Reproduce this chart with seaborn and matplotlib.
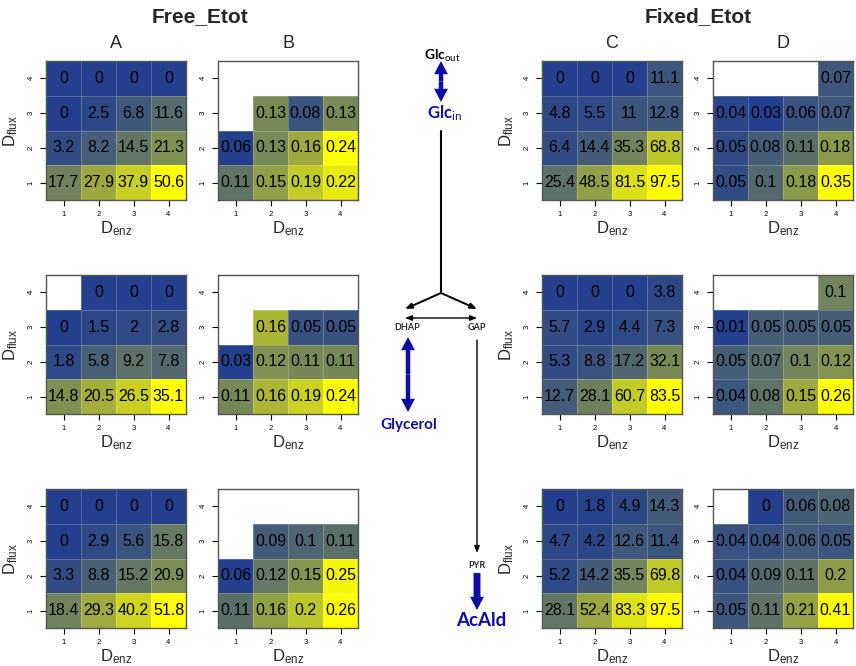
import numpy as np
import pandas as pd
import matplotlib
matplotlib.use("Agg")
import matplotlib.pyplot as plt
import seaborn as sns
from matplotlib.colors import LinearSegmentedColormap
from matplotlib.patches import FancyArrowPatch

nan = np.nan

enz_levels = [1, 2, 3, 4]
flux_levels = [4, 3, 2, 1]  # heatmap rows, top to bottom

# rows = D_flux 4..1, cols = D_enz 1..4
A1 = [[0, 0, 0, 0], [0, 2.5, 6.8, 11.6], [3.2, 8.2, 14.5, 21.3], [17.7, 27.9, 37.9, 50.6]]
B1 = [[nan, nan, nan, nan], [nan, 0.13, 0.08, 0.13], [0.06, 0.13, 0.16, 0.24], [0.11, 0.15, 0.19, 0.22]]
C1 = [[0, 0, 0, 11.1], [4.8, 5.5, 11, 12.8], [6.4, 14.4, 35.3, 68.8], [25.4, 48.5, 81.5, 97.5]]
D1 = [[nan, nan, nan, 0.07], [0.04, 0.03, 0.06, 0.07], [0.05, 0.08, 0.11, 0.18], [0.05, 0.1, 0.18, 0.35]]

A2 = [[nan, 0, 0, 0], [0, 1.5, 2, 2.8], [1.8, 5.8, 9.2, 7.8], [14.8, 20.5, 26.5, 35.1]]
B2 = [[nan, nan, nan, nan], [nan, 0.16, 0.05, 0.05], [0.03, 0.12, 0.11, 0.11], [0.11, 0.16, 0.19, 0.24]]
C2 = [[0, 0, 0, 3.8], [5.7, 2.9, 4.4, 7.3], [5.3, 8.8, 17.2, 32.1], [12.7, 28.1, 60.7, 83.5]]
D2 = [[nan, nan, nan, 0.1], [0.01, 0.05, 0.05, 0.05], [0.05, 0.07, 0.1, 0.12], [0.04, 0.08, 0.15, 0.26]]

A3 = [[0, 0, 0, 0], [0, 2.9, 5.6, 15.8], [3.3, 8.8, 15.2, 20.9], [18.4, 29.3, 40.2, 51.8]]
B3 = [[nan, nan, nan, nan], [nan, 0.09, 0.1, 0.11], [0.06, 0.12, 0.15, 0.25], [0.11, 0.16, 0.2, 0.26]]
C3 = [[0, 1.8, 4.9, 14.3], [4.7, 4.2, 12.6, 11.4], [5.2, 14.2, 35.5, 69.8], [28.1, 52.4, 83.3, 97.5]]
D3 = [[nan, 0, 0.06, 0.08], [0.04, 0.04, 0.06, 0.05], [0.04, 0.09, 0.11, 0.2], [0.05, 0.11, 0.21, 0.41]]

panel_titles = ["A", "B", "C", "D"]
panels = [[A1, B1, C1, D1], [A2, B2, C2, D2], [A3, B3, C3, D3]]

sns.set_style("white")
plt.rcParams["font.family"] = ["Liberation Sans", "DejaVu Sans"]
plt.rcParams["mathtext.fontset"] = "custom"
plt.rcParams["mathtext.rm"] = "Liberation Sans"
plt.rcParams["mathtext.it"] = "Liberation Sans:italic"
plt.rcParams["mathtext.bf"] = "Lato:bold"
plt.rcParams["mathtext.sf"] = "Lato"

cmap = LinearSegmentedColormap.from_list("by", ["#233F8E", "#FFFF00"])

W, H = 856, 666
fig = plt.figure(figsize=(W / 100, H / 100), dpi=100)

col_left = [46, 218, 542, 713]
row_top = [61, 275, 489]
pw, ph = 140, 139


def draw(ax, vals, show_ylab):
    df = pd.DataFrame(vals, index=flux_levels, columns=enz_levels)
    arr = df.to_numpy(dtype=float)
    labels = np.array([["" if np.isnan(v) else f"{v:g}" for v in row] for row in arr])
    sns.heatmap(df, ax=ax, cmap=cmap, vmin=np.nanmin(arr), vmax=np.nanmax(arr),
                annot=labels, fmt="", cbar=False,
                linewidths=0.6, linecolor=(1, 1, 1, 0.22),
                annot_kws=dict(fontsize=11.5, color="black"))
    for s in ax.spines.values():
        s.set_visible(True)
        s.set_color("#555555")
        s.set_linewidth(1)
    ax.tick_params(axis="both", bottom=True, left=True, length=4, width=0.8,
                   labelsize=5.5, colors="black", pad=4)
    ax.set_yticklabels(ax.get_yticklabels(), rotation=90, va="center")
    ax.set_xticklabels(ax.get_xticklabels(), rotation=0)
    ax.set_xlabel(r"D$_{\mathrm{enz}}$", fontsize=12, labelpad=1)
    if show_ylab:
        ax.set_ylabel(r"D$_{\mathrm{flux}}$", fontsize=12, labelpad=6)
    else:
        ax.set_ylabel("")


for r, top in enumerate(row_top):
    for c, left in enumerate(col_left):
        ax = fig.add_axes([left / W, (H - top - ph) / H, pw / W, ph / H])
        draw(ax, panels[r][c], c in (0, 2))
        if r == 0:
            ax.set_title(panel_titles[c], fontsize=13, pad=9)

fig.text(200 / W, 1 - 17 / H, "Free_Etot", ha="center", va="center",
         fontsize=15, fontweight="bold")
fig.text(698 / W, 1 - 17 / H, "Fixed_Etot", ha="center", va="center",
         fontsize=15, fontweight="bold")

# pathway sketch in the middle, pixel coordinates
d = fig.add_axes([0, 0, 1, 1], zorder=5)
d.set_xlim(0, W)
d.set_ylim(H, 0)
d.axis("off")
d.patch.set_alpha(0)

blue = "#0D0DA3"


def arrow(p0, p1, style, color, lw, ms):
    d.add_patch(FancyArrowPatch(p0, p1, arrowstyle=style, color=color, lw=lw,
                                mutation_scale=ms, shrinkA=0, shrinkB=0))


def fat(p0, p1, tail=3.2, both=False):
    # filled block arrow
    style = f"simple,head_length=9.5,head_width=10,tail_width={tail}"
    ends = [p1]
    start = p0
    if both:
        start = ((p0[0] + p1[0]) / 2, (p0[1] + p1[1]) / 2)
        ends = [p0, p1]
    for e in ends:
        d.add_patch(FancyArrowPatch(start, e, arrowstyle=style, color=blue, lw=0,
                                    mutation_scale=1, shrinkA=0, shrinkB=0))


thin2 = "<|-|>,head_length=0.5,head_width=0.2"
thin1 = "-|>,head_length=0.5,head_width=0.2"

fat((441, 61), (441, 102), both=True)
arrow((441, 131), (441, 293), "-", "black", 1.5, 10)
arrow((441, 293), (405, 309), thin1, "black", 1.4, 8)
arrow((441, 293), (477, 309), thin1, "black", 1.4, 8)
arrow((405, 318), (477, 318), thin2, "black", 1.0, 8)
fat((408, 337), (408, 412), both=True)
arrow((477, 340), (477, 553), thin1, "black", 1.0, 8)
fat((477, 573), (477, 610), tail=5)

d.text(442, 56, r"$\mathbf{Glc}_{\mathsf{out}}$", ha="center", va="center",
       fontsize=10, color="black")
d.text(444, 113, r"$\mathbf{Glc}_{\mathsf{in}}$", ha="center", va="center",
       fontsize=12, color=blue)
d.text(407, 328, "DHAP", ha="center", va="center", fontsize=6.5,
       fontweight="bold", family="Lato")
d.text(477, 328, "GAP", ha="center", va="center", fontsize=6.5,
       fontweight="bold", family="Lato")
d.text(409, 425, "Glycerol", ha="center", va="center", fontsize=11,
       fontweight="bold", color=blue, family="Lato")
d.text(477, 565, "PYR", ha="center", va="center", fontsize=6.5,
       fontweight="bold", family="Lato")
d.text(481, 620, "AcAld", ha="center", va="center", fontsize=13.5,
       fontweight="bold", color=blue, family="Lato")

fig.savefig("out.png", dpi=100)
